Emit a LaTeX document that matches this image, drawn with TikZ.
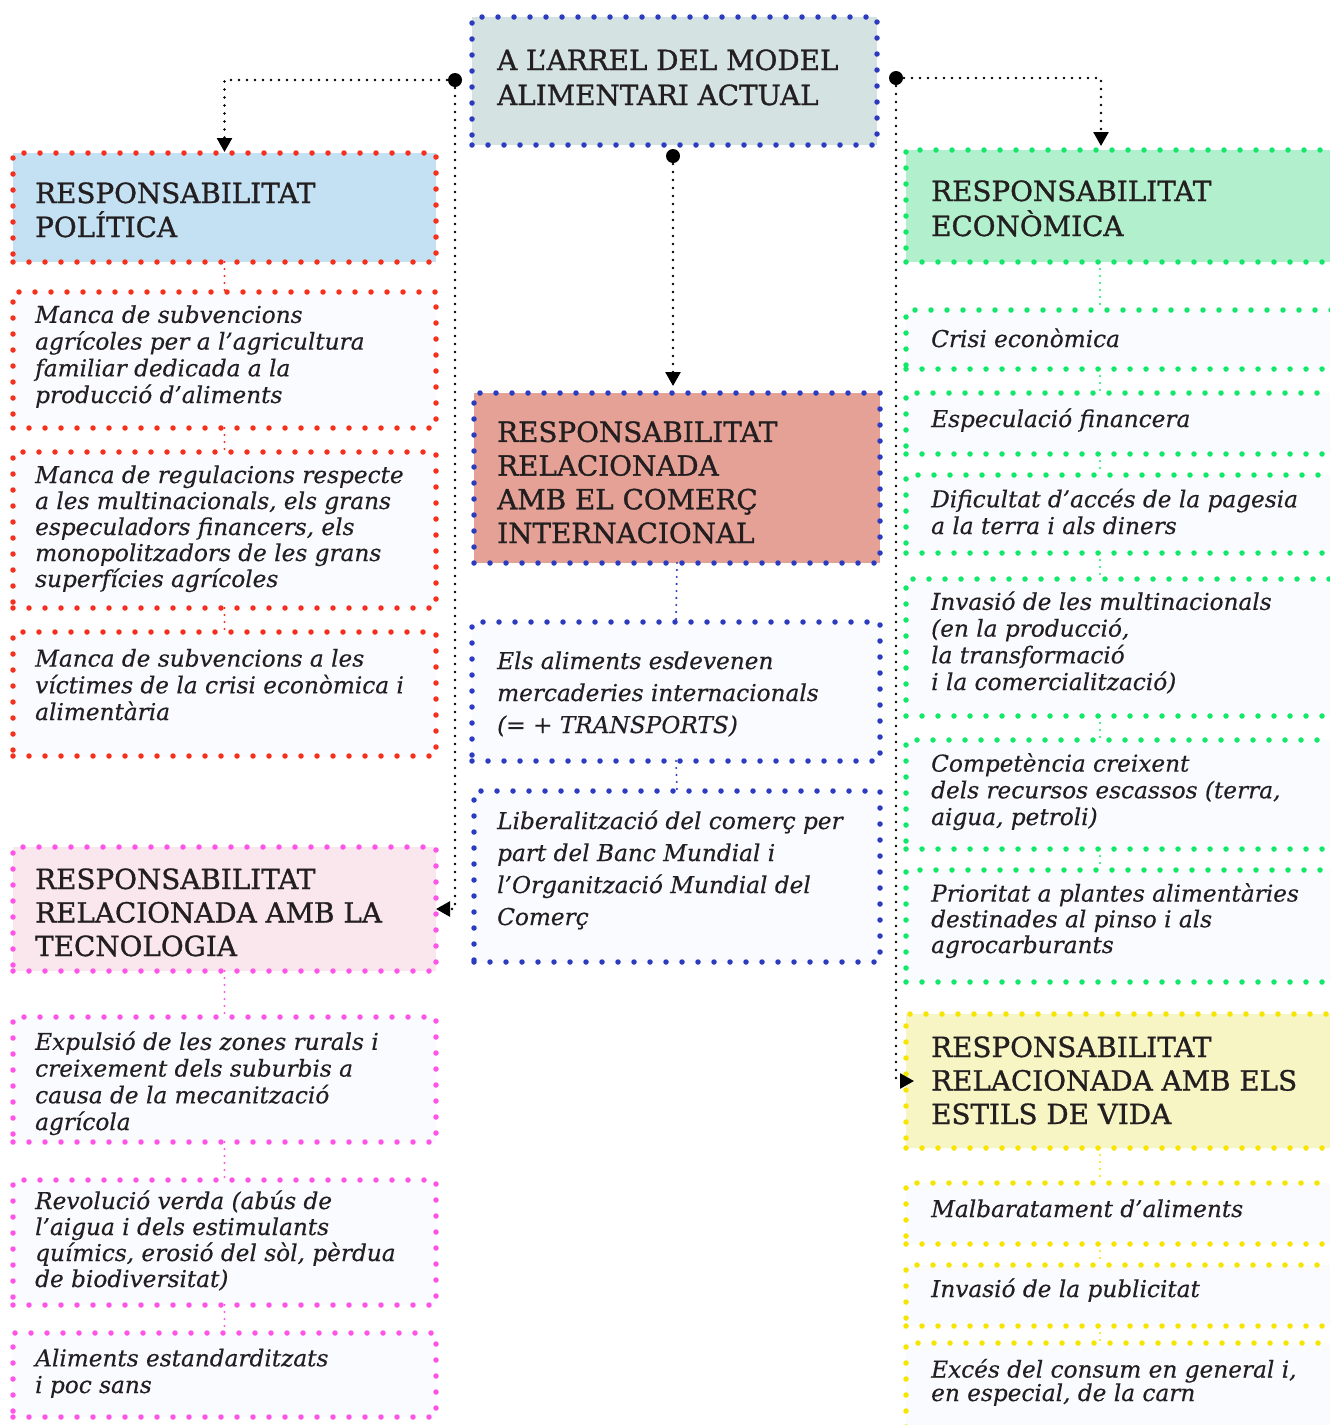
\documentclass[tikz,border=0pt]{standalone}
\usepackage{fontspec}
\setmainfont{DejaVu Serif}[UprightFeatures={FakeBold=1.1}, ItalicFeatures={FakeBold=0.4}]
\usetikzlibrary{arrows.meta,calc}
\definecolor{ctext}{HTML}{231F20}
\definecolor{cblue}{HTML}{2B3CC0}
\definecolor{cred}{HTML}{F5301E}
\definecolor{cmag}{HTML}{FF55E6}
\definecolor{cgreen}{HTML}{14E86A}
\definecolor{cyel}{HTML}{F5E500}
\definecolor{cpale}{HTML}{F9FBFE}
\definecolor{froot}{HTML}{D4E3E2}
\definecolor{fpol}{HTML}{C4E1F3}
\definecolor{fcom}{HTML}{E5A196}
\definecolor{ftec}{HTML}{FAE7EE}
\definecolor{feco}{HTML}{B2F0CD}
\definecolor{fest}{HTML}{F7F5C4}
\begin{document}
\begin{tikzpicture}[x=1pt,y=-1pt,
  bx/.style={line width=5.5pt, dash pattern=on 0pt off 16pt, line cap=round,
    inner sep=0pt, outer sep=0pt, anchor=north west},
  redbx/.style={bx, draw=cred, fill=cpale},
  bluebx/.style={bx, draw=cblue, fill=cpale},
  magbx/.style={bx, draw=cmag, fill=cpale},
  greenbx/.style={bx, draw=cgreen, fill=cpale},
  yelbx/.style={bx, draw=cyel, fill=cpale},
  link/.style={draw=black, line width=2.6pt, dash pattern=on 0pt off 8pt, line cap=round,
    -{Triangle[length=14pt,width=15pt]}},
  sub/.style={line width=2.4pt, dash pattern=on 0pt off 7pt, line cap=round},
  bigdot/.style={circle, fill=black, inner sep=0pt, minimum size=14pt},
  head/.style={anchor=base west, align=left, inner sep=0pt, text=ctext,
    font=\fontsize{27.8}{34}\selectfont},
  body/.style={anchor=base west, align=left, inner sep=0pt, text=ctext,
    font=\itshape\fontsize{23.2}{26.7}\selectfont},
  bodyw/.style={body, font=\itshape\fontsize{23.2}{32}\selectfont}
]
\useasboundingbox (0,0) rectangle (1330,1425);
\clip (0,0) rectangle (1330,1425);

% ---------- root ----------
\node[bx, draw=cblue, fill=froot, minimum width=405pt, minimum height=128pt] (root) at (472,17) {};
\node[head, font=\fontsize{27.8}{35}\selectfont] (troot) at (497,105) {A L’ARREL DEL MODEL\\ALIMENTARI ACTUAL};

% ---------- left column ----------
\node[bx, draw=cred, fill=fpol, minimum width=423pt, minimum height=109pt] (pol) at (13,153) {};
\node[redbx, minimum width=423pt, minimum height=136pt] (l1) at (13,292) {};
\node[redbx, minimum width=423pt, minimum height=156pt] (l2) at (13,452) {};
\node[redbx, minimum width=423pt, minimum height=124pt] (l3) at (13,632) {};
\node[bx, draw=cmag, fill=ftec, minimum width=423pt, minimum height=124pt] (tec) at (13,847) {};
\node[magbx, minimum width=423pt, minimum height=125pt] (l4) at (13,1017) {};
\node[magbx, minimum width=423pt, minimum height=125pt] (l5) at (13,1180) {};
\node[magbx, minimum width=423pt, minimum height=84pt] (l6) at (13,1333) {};

\node[head] (tpol) at (35,237) {RESPONSABILITAT\\POLÍTICA};
\node[body] (tl1) at (35,403) {Manca de subvencions\\agrícoles per a l’agricultura\\familiar dedicada a la\\producció d’aliments};
\node[body, font=\itshape\fontsize{23.2}{26}\selectfont] (tl2) at (35,587) {Manca de regulacions respecte\\a les multinacionals, els grans\\especuladors financers, els\\monopolitzadors de les grans\\superfícies agrícoles};
\node[body] (tl3) at (35,720) {Manca de subvencions a les\\víctimes de la crisi econòmica i\\alimentària};
\node[head, font=\fontsize{27.8}{33.5}\selectfont] (ttec) at (35,956) {RESPONSABILITAT\\RELACIONADA AMB LA\\TECNOLOGIA};
\node[body] (tl4) at (35,1130) {Expulsió de les zones rurals i\\creixement dels suburbis a\\causa de la mecanització\\agrícola};
\node[body, font=\itshape\fontsize{23.2}{26}\selectfont] (tl5) at (35,1287) {Revolució verda (abús de\\l’aigua i dels estimulants\\químics, erosió del sòl, pèrdua\\de biodiversitat)};
\node[body] (tl6) at (35,1393) {Aliments estandarditzats\\i poc sans};

% ---------- middle column ----------
\node[bx, draw=cblue, fill=fcom, minimum width=406pt, minimum height=170pt] (com) at (474,393) {};
\node[bluebx, minimum width=408pt, minimum height=139pt] (m1) at (472,622) {};
\node[bluebx, minimum width=406pt, minimum height=171pt] (m2) at (474,791) {};

\node[head, font=\fontsize{27.8}{33.7}\selectfont] (tcom) at (497,543) {RESPONSABILITAT\\RELACIONADA\\AMB EL COMERÇ\\INTERNACIONAL};
\node[bodyw] (tm1) at (497,733) {Els aliments esdevenen\\mercaderies internacionals\\(= + TRANSPORTS)};
\node[bodyw] (tm2) at (497,925) {Liberalització del comerç per\\part del Banc Mundial i\\l’Organització Mundial del\\Comerç};

% ---------- right column ----------
\node[bx, draw=cgreen, fill=feco, minimum width=439pt, minimum height=112pt] (eco) at (906,150) {};
\node[greenbx, minimum width=439pt, minimum height=59pt] (r1) at (906,310) {};
\node[greenbx, minimum width=439pt, minimum height=61pt] (r2) at (906,393) {};
\node[greenbx, minimum width=439pt, minimum height=78pt] (r3) at (906,475) {};
\node[greenbx, minimum width=439pt, minimum height=137pt] (r4) at (906,579) {};
\node[greenbx, minimum width=439pt, minimum height=109pt] (r5) at (906,740) {};
\node[greenbx, minimum width=439pt, minimum height=112pt] (r6) at (906,870) {};
\node[bx, draw=cyel, fill=fest, minimum width=439pt, minimum height=134pt] (est) at (906,1014) {};
\node[yelbx, minimum width=439pt, minimum height=61pt] (r7) at (906,1183) {};
\node[yelbx, minimum width=439pt, minimum height=61pt] (r8) at (906,1265) {};
\node[yelbx, minimum width=439pt, minimum height=110pt] (r9) at (906,1343) {};

\node[head, font=\fontsize{27.8}{35}\selectfont] (teco) at (931,236) {RESPONSABILITAT\\ECONÒMICA};
\node[body] (tr1) at (931,347) {Crisi econòmica};
\node[body] (tr2) at (931,427) {Especulació financera};
\node[body] (tr3) at (931,534) {Dificultat d’accés de la pagesia\\a la terra i als diners};
\node[body] (tr4) at (931,690) {Invasió de les multinacionals\\(en la producció,\\la transformació\\i la comercialització)};
\node[body] (tr5) at (931,825) {Competència creixent\\dels recursos escassos (terra,\\aigua, petroli)};
\node[body, font=\itshape\fontsize{23.2}{25.7}\selectfont] (tr6) at (931,953) {Prioritat a plantes alimentàries\\destinades al pinso i als\\agrocarburants};
\node[head, font=\fontsize{27.8}{33.5}\selectfont] (test) at (931,1124) {RESPONSABILITAT\\RELACIONADA AMB ELS\\ESTILS DE VIDA};
\node[body] (tr7) at (931,1217) {Malbaratament d’aliments};
\node[body] (tr8) at (931,1297) {Invasió de la publicitat};
\node[body, font=\itshape\fontsize{23.2}{23.5}\selectfont] (tr9) at (931,1401) {Excés del consum en general i,\\en especial, de la carn};

% ---------- inner connectors ----------
\draw[sub, cred] (pol.south) -- (l1.north);
\draw[sub, cred] (l1.south) -- (l2.north);
\draw[sub, cred] (l2.south) -- (l3.north);
\draw[sub, cmag] (tec.south) -- (l4.north);
\draw[sub, cmag] (l4.south) -- (l5.north);
\draw[sub, cmag] (l5.south) -- (l6.north);
\draw[sub, cblue] (com.south) -- (m1.north);
\draw[sub, cblue] (m1.south) -- (m2.north);
\draw[sub, cgreen] ($(eco.south west)+(194,0)$) -- ($(r1.north west)+(194,0)$);
\draw[sub, cgreen] ($(r1.south west)+(194,0)$) -- ($(r2.north west)+(194,0)$);
\draw[sub, cgreen] ($(r2.south west)+(194,0)$) -- ($(r3.north west)+(194,0)$);
\draw[sub, cgreen] ($(r3.south west)+(194,0)$) -- ($(r4.north west)+(194,0)$);
\draw[sub, cgreen] ($(r4.south west)+(194,0)$) -- ($(r5.north west)+(194,0)$);
\draw[sub, cgreen] ($(r5.south west)+(194,0)$) -- ($(r6.north west)+(194,0)$);
\draw[sub, cyel] ($(est.south west)+(194,0)$) -- ($(r7.north west)+(194,0)$);
\draw[sub, cyel] ($(r7.south west)+(194,0)$) -- ($(r8.north west)+(194,0)$);
\draw[sub, cyel] ($(r8.south west)+(194,0)$) -- ($(r9.north west)+(194,0)$);

% ---------- main connectors ----------
\node[bigdot] (dl) at (455,80) {};
\node[bigdot] (dm) at (673,156) {};
\node[bigdot] (dr) at (896,78) {};
\draw[link, shorten >=1pt] (dl.center) -| (pol.north);
\draw[link] (dl.center) |- (tec.east);
\draw[link, shorten >=7pt] (dm.center) -- (dm.center |- com.north);
\draw[link, shorten >=4pt] (dr.center) -| ($(eco.north west)+(195,0)$);
\draw[link, shorten >=-8pt] (dr.center) |- (est.west);
\end{tikzpicture}
\end{document}
